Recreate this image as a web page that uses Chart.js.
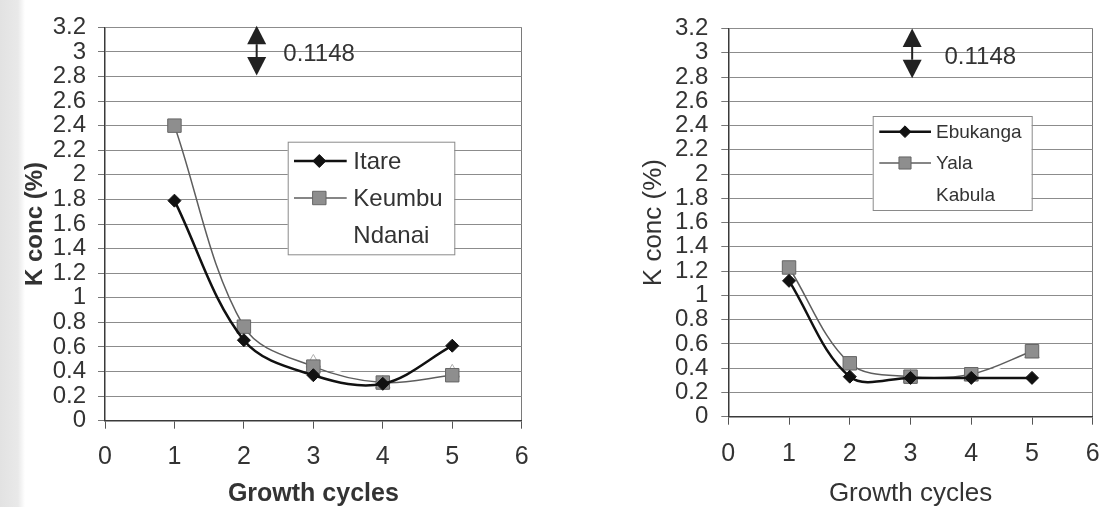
<!DOCTYPE html>
<html>
<head>
<meta charset="utf-8">
<script src="https://cdn.jsdelivr.net/npm/chart.js@4.4.1/dist/chart.umd.min.js"></script>
<style>
  html, body { margin: 0; padding: 0; }
  body {
    width: 1114px; height: 507px; overflow: hidden; position: relative;
    background: linear-gradient(to right, #e2e2e2 0, #e9e9e9 18px, #ffffff 25px);
  }
  .panel { position: absolute; top: 0; height: 507px; }
  #left { left: 0; width: 560px; }
  #right { left: 560px; width: 554px; }
</style>
</head>
<body>
<div class="panel" id="left"><canvas id="chartLeft" width="560" height="507"></canvas></div>
<div class="panel" id="right"><canvas id="chartRight" width="554" height="507"></canvas></div>

<script>
// ===== Dados =====
const cycles = [1, 2, 3, 4, 5];

const itare = [1.79, 0.655, 0.37, 0.30, 0.61];
const keumbu = [2.40, 0.765, 0.44, 0.31, 0.37];
const ndanai = [null, null, 0.47, 0.30, 0.39];

const ebukanga = [1.12, 0.33, 0.32, 0.32, 0.32];
const yala = [1.23, 0.44, 0.33, 0.35, 0.54];
const kabula = [null, null, 0.32, 0.33, 0.52];

const yTickLabels = ['0', '0.2', '0.4', '0.6', '0.8', '1', '1.2', '1.4', '1.6', '1.8',
  '2', '2.2', '2.4', '2.6', '2.8', '3', '3.2'];
const xTickLabels = ['0', '1', '2', '3', '4', '5', '6'];

const gapLabel = '0.1148';

const FONT = "'Liberation Sans', Arial, sans-serif";
const TEXT = '#333';

// ===== Estilos das séries =====
const diamondStyle = {
  borderColor: '#111', borderWidth: 2.5, tension: 0.35,
  pointStyle: 'rectRot', pointRadius: 6.5,
  pointBackgroundColor: '#111', pointBorderColor: '#111', pointBorderWidth: 1
};
const squareStyle = {
  borderColor: '#5e5e5e', borderWidth: 1.5, tension: 0.35,
  pointStyle: 'rect', pointRadius: 9.5,
  pointBackgroundColor: '#8e8e8e', pointBorderColor: '#666', pointBorderWidth: 1
};
const triangleStyle = {
  borderColor: '#ffffff', borderWidth: 2.5, tension: 0.35,
  pointStyle: 'triangle', pointRadius: 8.5,
  pointBackgroundColor: '#ffffff', pointBorderColor: '#b0b0b0', pointBorderWidth: 1
};

function toPoints(values) {
  return cycles.map((c, i) => ({ x: c, y: values[i] }));
}

// ===== Legenda dentro da área do gráfico =====
function drawMarker(ctx, style, x, y, r) {
  ctx.beginPath();
  if (style === 'rectRot') {
    ctx.moveTo(x - r, y); ctx.lineTo(x, y - r); ctx.lineTo(x + r, y); ctx.lineTo(x, y + r);
  } else if (style === 'rect') {
    const s = r * Math.SQRT1_2;
    ctx.rect(x - s, y - s, 2 * s, 2 * s);
  } else {
    ctx.moveTo(x, y - r); ctx.lineTo(x + r * 0.866, y + r / 2); ctx.lineTo(x - r * 0.866, y + r / 2);
  }
  ctx.closePath();
  ctx.fill();
  ctx.stroke();
}

const boxLegend = {
  id: 'boxLegend',
  afterDatasetsDraw(chart, args, o) {
    const ctx = chart.ctx;
    ctx.save();
    ctx.fillStyle = '#fff';
    ctx.fillRect(o.x, o.y, o.w, o.h);
    ctx.strokeStyle = '#8a8a8a';
    ctx.lineWidth = 1;
    ctx.strokeRect(o.x + 0.5, o.y + 0.5, o.w, o.h);
    chart.data.datasets.forEach((ds, i) => {
      const y = o.firstRow + i * o.rowGap;
      if (ds.borderColor !== '#ffffff') {
        ctx.strokeStyle = ds.borderColor;
        ctx.lineWidth = ds.borderWidth;
        ctx.beginPath();
        ctx.moveTo(o.lineX0, y);
        ctx.lineTo(o.lineX1, y);
        ctx.stroke();
        ctx.fillStyle = ds.pointBackgroundColor;
        ctx.strokeStyle = ds.pointBorderColor;
        ctx.lineWidth = ds.pointBorderWidth;
        drawMarker(ctx, ds.pointStyle, o.markX, y, ds.pointRadius * o.markScale);
      }
      ctx.fillStyle = TEXT;
      ctx.font = o.fontSize + 'px ' + FONT;
      ctx.textBaseline = 'middle';
      ctx.textAlign = 'left';
      ctx.fillText(ds.label, o.textX, y + 1);
    });
    ctx.restore();
  }
};

// ===== Seta dupla com o valor =====
const gapArrow = {
  id: 'gapArrow',
  afterDatasetsDraw(chart, args, o) {
    const { ctx, scales: { x, y } } = chart;
    const px = x.getPixelForValue(o.x);
    const top = y.getPixelForValue(o.top);
    const bot = y.getPixelForValue(o.bottom);
    const hw = 9.5, hh = 18.5;
    ctx.save();
    ctx.fillStyle = '#222';
    ctx.strokeStyle = '#222';
    ctx.beginPath();
    ctx.moveTo(px, top); ctx.lineTo(px + hw, top + hh); ctx.lineTo(px - hw, top + hh);
    ctx.closePath(); ctx.fill();
    ctx.beginPath();
    ctx.moveTo(px, bot); ctx.lineTo(px + hw, bot - hh); ctx.lineTo(px - hw, bot - hh);
    ctx.closePath(); ctx.fill();
    ctx.lineWidth = 2;
    ctx.beginPath();
    ctx.moveTo(px, top + hh); ctx.lineTo(px, bot - hh);
    ctx.stroke();
    ctx.fillStyle = TEXT;
    ctx.font = o.fontSize + 'px ' + FONT;
    ctx.textBaseline = 'middle';
    ctx.textAlign = 'left';
    ctx.fillText(o.text, px + o.textGap, y.getPixelForValue(o.textY));
    ctx.restore();
  }
};

function buildChart(canvasId, datasets, look) {
  new Chart(document.getElementById(canvasId).getContext('2d'), {
    type: 'line',
    data: { datasets },
    plugins: [boxLegend, gapArrow],
    options: {
      responsive: false,
      animation: false,
      layout: { padding: { top: look.padTop, right: look.padRight, left: 0, bottom: 0 } },
      plugins: {
        legend: { display: false },
        tooltip: { enabled: false },
        boxLegend: look.legend,
        gapArrow: look.arrow
      },
      scales: {
        x: {
          type: 'linear', min: 0, max: 6,
          afterFit: s => { s.height = look.xHeight; },
          ticks: {
            stepSize: 1, autoSkip: false, color: TEXT, padding: look.xTickPad,
            font: { family: FONT, size: 25 },
            callback: (v, i) => xTickLabels[i]
          },
          grid: {
            drawOnChartArea: true, tickLength: 8, tickColor: '#555', tickWidth: 1,
            color: c => (c.tick && c.tick.value === 6) ? '#7a7a7a' : 'rgba(0,0,0,0)'
          },
          border: { color: '#3a3a3a', width: 1.5 },
          title: {
            display: true, text: 'Growth cycles', color: TEXT,
            padding: { top: 0, bottom: 0 },
            font: { family: FONT, size: look.xTitleSize, weight: look.titleWeight, lineHeight: 1 }
          }
        },
        y: {
          min: 0, max: 3.2,
          afterFit: s => { s.width = look.yWidth; },
          ticks: {
            stepSize: 0.2, autoSkip: false, color: TEXT, padding: look.yTickPad,
            font: { family: FONT, size: 24, lineHeight: 1 },
            callback: (v, i) => yTickLabels[i]
          },
          grid: { color: '#8c8c8c', lineWidth: 1, tickLength: 7, tickColor: '#777' },
          border: { color: '#3a3a3a', width: 1.5 },
          title: {
            display: true, text: 'K conc (%)', color: TEXT,
            padding: { top: look.yTitlePad, bottom: 0 },
            font: { family: FONT, size: look.yTitleSize, weight: look.titleWeight, lineHeight: 1.2 }
          }
        }
      }
    }
  });
}

document.addEventListener('DOMContentLoaded', () => {
  // ===== Gráfico da esquerda =====
  buildChart('chartLeft', [
    Object.assign({ label: 'Itare', data: toPoints(itare) }, diamondStyle),
    Object.assign({ label: 'Keumbu', data: toPoints(keumbu) }, squareStyle),
    Object.assign({ label: 'Ndanai', data: toPoints(ndanai) }, triangleStyle)
  ], {
    padTop: 27.3, padRight: 38.3, yWidth: 105, xHeight: 86.3,
    yTickPad: 12, xTickPad: 13.8,
    titleWeight: 'bold', xTitleSize: 25, yTitleSize: 24, yTitlePad: 20.6,
    legend: {
      x: 287.7, y: 141.7, w: 166.6, h: 112.6, firstRow: 161, rowGap: 37,
      lineX0: 294, lineX1: 346.7, markX: 319.3, textX: 353.3, fontSize: 24, markScale: 1
    },
    arrow: { x: 2.184, top: 3.213, bottom: 2.807, textY: 2.978, textGap: 26.6, text: gapLabel, fontSize: 24 }
  });

  // ===== Gráfico da direita =====
  buildChart('chartRight', [
    Object.assign({ label: 'Ebukanga', data: toPoints(ebukanga) }, diamondStyle),
    Object.assign({ label: 'Yala', data: toPoints(yala) }, squareStyle),
    Object.assign({ label: 'Kabula', data: toPoints(kabula) }, triangleStyle)
  ], {
    padTop: 28.5, padRight: 9.3, yWidth: 168.3, xHeight: 90.3,
    yTickPad: 13, xTickPad: 14.3,
    titleWeight: 'normal', xTitleSize: 26, yTitleSize: 26, yTitlePad: 78.4,
    legend: {
      x: 312.7, y: 116, w: 159, h: 94, firstRow: 131.7, rowGap: 31.3,
      lineX0: 319.3, lineX1: 371, markX: 345, textX: 376, fontSize: 19, markScale: 0.9
    },
    arrow: { x: 3.027, top: 3.20, bottom: 2.79, textY: 2.96, textGap: 32.3, text: gapLabel, fontSize: 24 }
  });
});
</script>
</body>
</html>
